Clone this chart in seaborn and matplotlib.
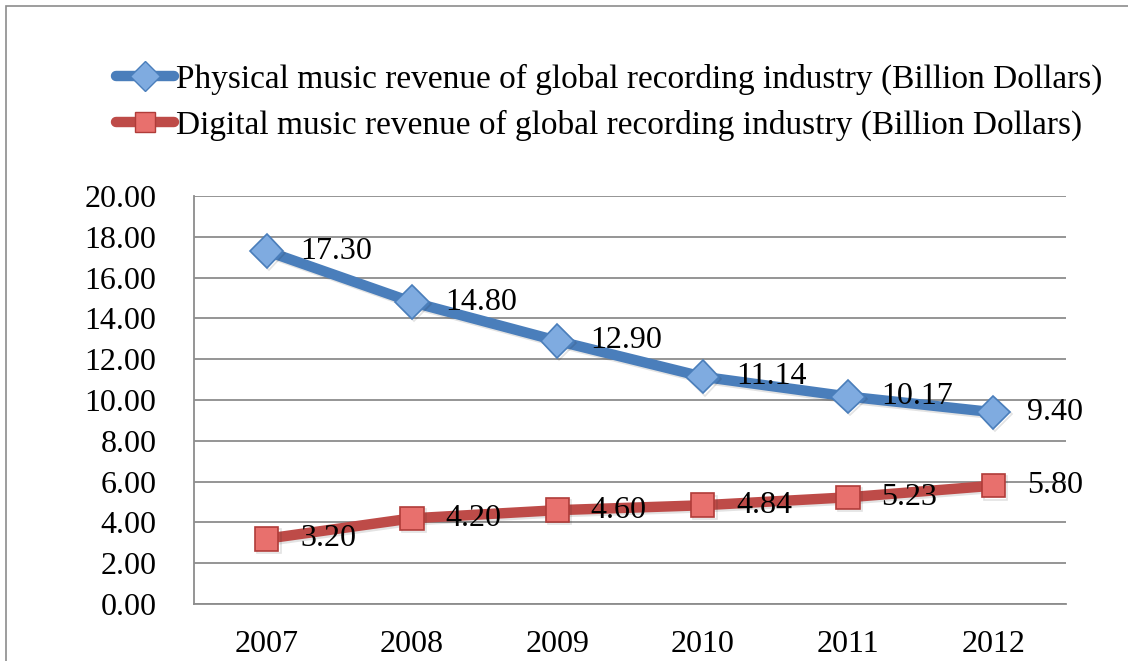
import matplotlib
matplotlib.use("Agg")
import matplotlib.pyplot as plt
import matplotlib.patheffects as pe
from matplotlib.lines import Line2D
from matplotlib.patches import Rectangle
import seaborn as sns
import pandas as pd

years = ["2007", "2008", "2009", "2010", "2011", "2012"]
physical = [17.30, 14.80, 12.90, 11.14, 10.17, 9.40]
digital = [3.20, 4.20, 4.60, 4.84, 5.23, 5.80]
label_physical = "Physical music revenue of global recording industry (Billion Dollars)"
label_digital = "Digital music revenue of global recording industry (Billion Dollars)"
yticks = [0, 2, 4, 6, 8, 10, 12, 14, 16, 18, 20]

sns.set_theme(style="white")
plt.rcParams["font.family"] = ["Liberation Serif", "DejaVu Serif"]
plt.rcParams["text.color"] = "black"
plt.rcParams["xtick.color"] = "black"
plt.rcParams["ytick.color"] = "black"

FS = 23
W, H = 1128, 661
fig = plt.figure(figsize=(W / 100, H / 100), dpi=100)
fig.patch.set_facecolor("white")
fig.add_artist(Rectangle((6 / W, -0.05), 1.1, (H - 6) / H + 0.05, transform=fig.transFigure,
                         fill=False, edgecolor="#8c8c8c", linewidth=1.2))

ax = fig.add_axes([194 / W, (H - 604) / H, (1066 - 194) / W, (604 - 196) / H])
ax.set_facecolor("none")

idx = list(range(len(years)))
df = pd.DataFrame({"i": idx, "physical": physical, "digital": digital})

blue_line, blue_face, blue_edge = "#4a7ebb", "#7fabe0", "#4a7ebb"
red_line, red_face, red_edge = "#be4b48", "#e8706d", "#b03c39"
shadow = [pe.SimpleLineShadow(offset=(1.5, -1.5), alpha=0.12), pe.Normal()]

sns.lineplot(data=df, x="i", y="physical", ax=ax, color=blue_line, linewidth=7.5,
             marker="D", markersize=17, markerfacecolor=blue_face,
             markeredgecolor=blue_edge, markeredgewidth=1.2, path_effects=shadow, zorder=3)
sns.lineplot(data=df, x="i", y="digital", ax=ax, color=red_line, linewidth=7.5,
             marker="s", markersize=17, markerfacecolor=red_face,
             markeredgecolor=red_edge, markeredgewidth=1.2, path_effects=shadow, zorder=3)

for i, v in enumerate(physical):
    ax.annotate(f"{v:.2f}", (i, v), xytext=(24, 0), textcoords="offset points",
                ha="left", va="center", fontsize=FS, color="black", zorder=4)
for i, v in enumerate(digital):
    ax.annotate(f"{v:.2f}", (i, v), xytext=(24, 0), textcoords="offset points",
                ha="left", va="center", fontsize=FS, color="black", zorder=4)

ax.set_xlim(-0.5, len(years) - 0.5)
ax.set_ylim(0, 20)
ax.set_yticks(yticks)
ax.set_yticklabels([f"{t:.2f}" for t in yticks], fontsize=FS)
ax.set_xticks(idx)
ax.set_xticklabels(years, fontsize=FS)
ax.tick_params(axis="y", length=0, pad=27)
ax.tick_params(axis="x", length=0, pad=19)
ax.set_xlabel("")
ax.set_ylabel("")
ax.grid(axis="y", color="#8c8c8c", linewidth=1.3)
ax.grid(axis="x", visible=False)
ax.set_axisbelow(True)
for s in ["top", "right"]:
    ax.spines[s].set_visible(False)
for s in ["left", "bottom"]:
    ax.spines[s].set_color("#8c8c8c")
    ax.spines[s].set_linewidth(1.3)

handles = [
    Line2D([], [], color=blue_line, linewidth=7.5, marker="D", markersize=15,
           markerfacecolor=blue_face, markeredgecolor=blue_edge),
    Line2D([], [], color=red_line, linewidth=7.5, marker="s", markersize=15,
           markerfacecolor=red_face, markeredgecolor=red_edge),
]
fig.legend(handles, [label_physical, label_digital], loc="upper left",
           bbox_to_anchor=(99 / W, 1 - 47 / H), frameon=False, fontsize=24,
           handlelength=1.75, handletextpad=0.06, labelspacing=0.44, borderpad=0)

fig.savefig("out.png", dpi=100, facecolor="white")
